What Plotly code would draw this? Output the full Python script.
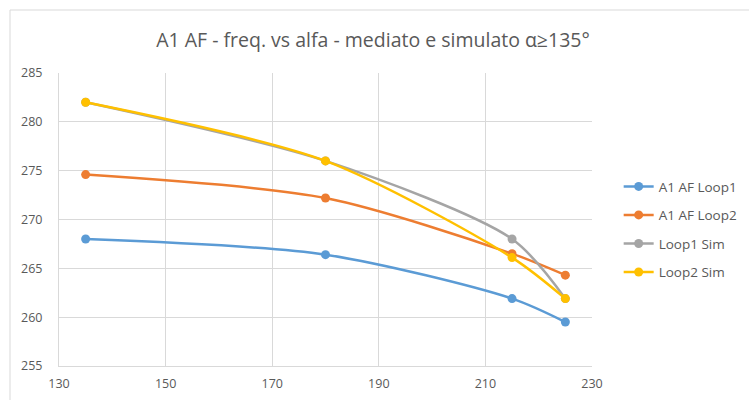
import plotly.graph_objects as go

# Angle alfa (degrees) and frequencies for each series
alfa = [135, 180, 215, 225]
af_loop1 = [268.0, 266.4, 261.9, 259.5]
af_loop2 = [274.6, 272.2, 266.5, 264.3]
loop1_sim = [282.0, 276.0, 268.0, 261.9]
loop2_sim = [282.0, 276.0, 266.1, 261.9]

series_names = ["A1 AF Loop1", "A1 AF Loop2", "Loop1 Sim", "Loop2 Sim"]
series_values = [af_loop1, af_loop2, loop1_sim, loop2_sim]
colors = ["#5B9BD5", "#ED7D31", "#A5A5A5", "#FFC000"]

x_ticks = [130, 150, 170, 190, 210, 230]
y_ticks = [255, 260, 265, 270, 275, 280, 285]

fig = go.Figure()
for name, vals, col in zip(series_names, series_values, colors):
    fig.add_trace(go.Scatter(
        x=alfa, y=vals, name=name, mode="lines+markers", legendgroup=name,
        line=dict(color=col, width=2.5, shape="spline", smoothing=0.8),
        marker=dict(color=col, size=9),
    ))

font_family = "Open Sans, Liberation Sans, sans-serif"

fig.update_layout(
    width=749, height=400,
    margin=dict(l=59, r=157, t=73, b=34),
    paper_bgcolor="white", plot_bgcolor="white",
    title=dict(
        text="A1 AF - freq. vs alfa - mediato e simulato α≥135°",
        x=0.498, xanchor="center", y=0.9, yanchor="middle",
        font=dict(family=font_family, size=19.5, color="#595959"),
    ),
    legend=dict(
        xref="container", yref="container",
        x=0.826, xanchor="left", y=0.426, yanchor="middle",
        font=dict(family=font_family, size=13.5, color="#595959"),
        tracegroupgap=8, itemwidth=30,
        bgcolor="rgba(0,0,0,0)",
    ),
    showlegend=True,
)
fig.update_xaxes(
    range=[130, 230], tickvals=x_ticks, showgrid=True, gridcolor="#D9D9D9",
    gridwidth=1, showline=True, linecolor="#D9D9D9", zeroline=False,
    tickfont=dict(family=font_family, size=12.5, color="#595959"), ticks="",
    ticklabelstandoff=6, automargin=False,
)
fig.update_yaxes(
    range=[255, 285], tickvals=y_ticks, showgrid=True, gridcolor="#D9D9D9",
    gridwidth=1, showline=True, linecolor="#D9D9D9", zeroline=False,
    tickfont=dict(family=font_family, size=12.5, color="#595959"), ticks="",
    ticklabelstandoff=13, automargin=False,
)
# chart area border
fig.add_shape(type="rect", xref="paper", yref="paper",
              x0=-49/533, x1=1.6, y0=-0.3, y1=356/293,
              line=dict(color="#D9D9D9", width=1), layer="below")

fig.write_html("out.html")
